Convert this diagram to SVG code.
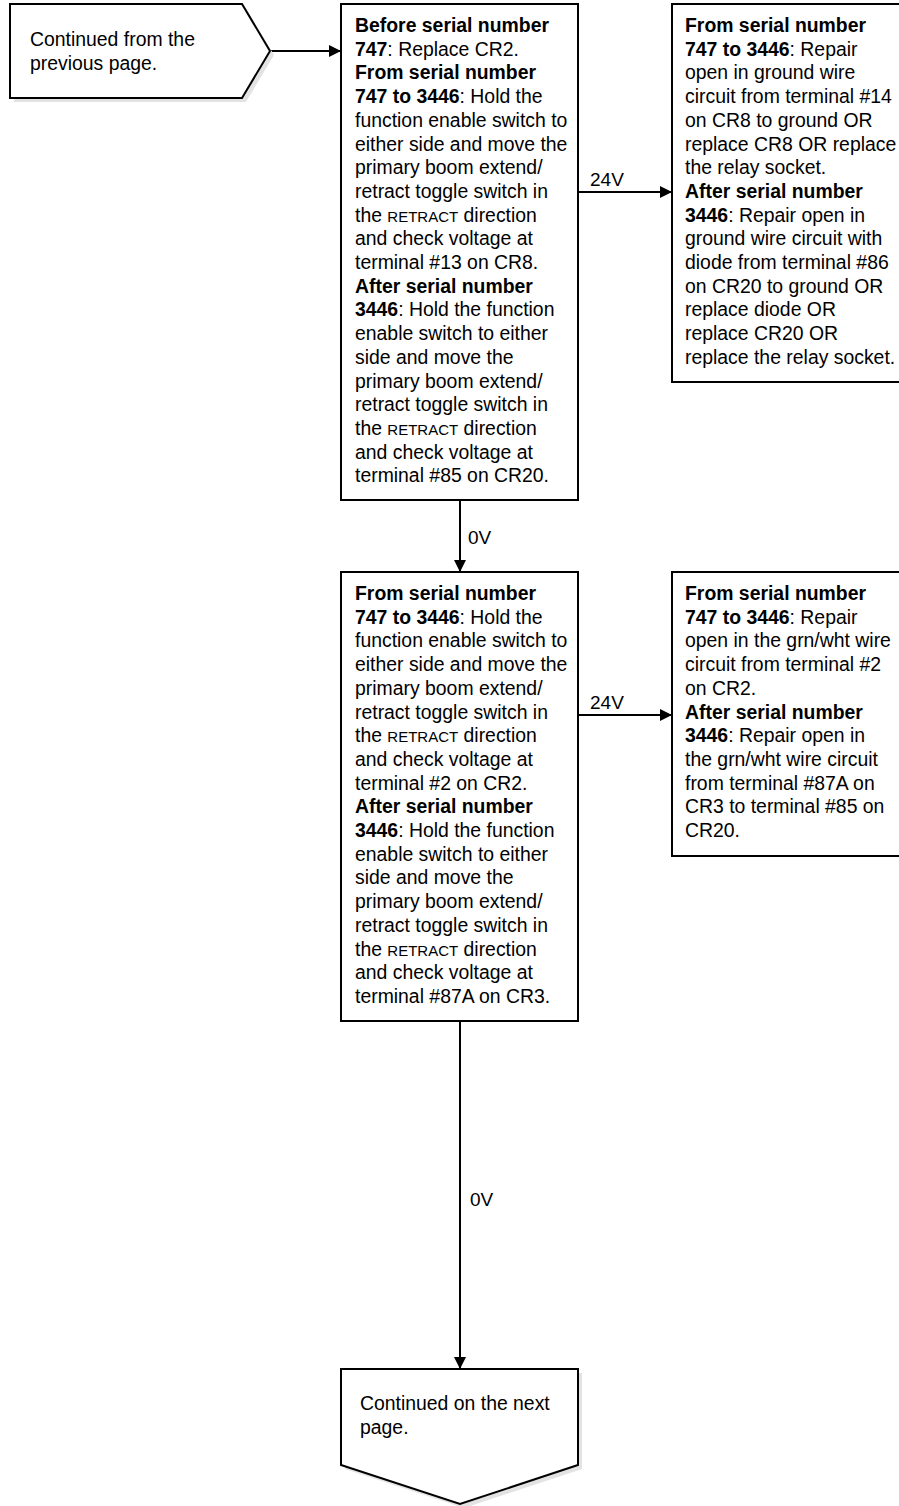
<svg xmlns="http://www.w3.org/2000/svg" width="899" height="1506" viewBox="0 0 899 1506">
<style>
.box{fill:#fff;stroke:#000;stroke-width:2}
.sh{fill:#e3e3e3;stroke:none}
.t{font-family:"Liberation Sans",Arial,sans-serif;font-size:19.4px;fill:#000}
.b{font-weight:bold}
.sc{font-size:15px}
.ln{stroke:#000;stroke-width:2;fill:none}
.lbl{font-family:"Liberation Sans",Arial,sans-serif;font-size:19px;fill:#000}
</style>
<defs>
<marker id="ah" markerWidth="12" markerHeight="12" refX="11" refY="6" orient="auto" markerUnits="userSpaceOnUse">
<path d="M0,0 L12,6 L0,12 Z" fill="#000"/>
</marker>
</defs>
<rect width="899" height="1506" fill="#fff"/>

<g id="connectors">
<line class="ln" x1="270" y1="51" x2="340" y2="51" marker-end="url(#ah)"/>
<line class="ln" x1="578" y1="192" x2="671" y2="192" marker-end="url(#ah)"/>
<text class="lbl" x="590" y="186">24V</text>
<line class="ln" x1="460" y1="500" x2="460" y2="571" marker-end="url(#ah)"/>
<text class="lbl" x="468" y="544">0V</text>
<line class="ln" x1="578" y1="715" x2="671" y2="715" marker-end="url(#ah)"/>
<text class="lbl" x="590" y="709">24V</text>
<line class="ln" x1="460" y1="1021" x2="460" y2="1368" marker-end="url(#ah)"/>
<text class="lbl" x="470" y="1206">0V</text>
</g>

<g id="start">
<polygon class="sh" points="14,8 246,8 274,55 246,102 14,102"/>
<polygon class="box" points="10,4 242,4 270,51 242,98 10,98"/>
<text class="t" x="30" y="46">Continued from the</text>
<text class="t" x="30" y="70">previous page.</text>
</g>

<g id="boxA">
<rect class="box" x="341" y="4" width="237" height="496"/>
<text class="t" x="355" y="32"><tspan class="b">Before serial number</tspan></text>
<text class="t" x="355" y="55.7"><tspan class="b">747</tspan>: Replace CR2.</text>
<text class="t" x="355" y="79.4"><tspan class="b">From serial number</tspan></text>
<text class="t" x="355" y="103.1"><tspan class="b">747 to 3446</tspan>: Hold the</text>
<text class="t" x="355" y="126.8">function enable switch to</text>
<text class="t" x="355" y="150.5">either side and move the</text>
<text class="t" x="355" y="174.2">primary boom extend/</text>
<text class="t" x="355" y="197.9">retract toggle switch in</text>
<text class="t" x="355" y="221.6">the <tspan class="sc">RETRACT</tspan> direction</text>
<text class="t" x="355" y="245.3">and check voltage at</text>
<text class="t" x="355" y="269">terminal #13 on CR8.</text>
<text class="t" x="355" y="292.7"><tspan class="b">After serial number</tspan></text>
<text class="t" x="355" y="316.4"><tspan class="b">3446</tspan>: Hold the function</text>
<text class="t" x="355" y="340.1">enable switch to either</text>
<text class="t" x="355" y="363.8">side and move the</text>
<text class="t" x="355" y="387.5">primary boom extend/</text>
<text class="t" x="355" y="411.2">retract toggle switch in</text>
<text class="t" x="355" y="434.9">the <tspan class="sc">RETRACT</tspan> direction</text>
<text class="t" x="355" y="458.6">and check voltage at</text>
<text class="t" x="355" y="482.3">terminal #85 on CR20.</text>
</g>

<g id="repairA">
<rect class="box" x="672" y="4" width="240" height="378"/>
<text class="t" x="685" y="32"><tspan class="b">From serial number</tspan></text>
<text class="t" x="685" y="55.7"><tspan class="b">747 to 3446</tspan>: Repair</text>
<text class="t" x="685" y="79.4">open in ground wire</text>
<text class="t" x="685" y="103.1">circuit from terminal #14</text>
<text class="t" x="685" y="126.8">on CR8 to ground OR</text>
<text class="t" x="685" y="150.5">replace CR8 OR replace</text>
<text class="t" x="685" y="174.2">the relay socket.</text>
<text class="t" x="685" y="197.9"><tspan class="b">After serial number</tspan></text>
<text class="t" x="685" y="221.6"><tspan class="b">3446</tspan>: Repair open in</text>
<text class="t" x="685" y="245.3">ground wire circuit with</text>
<text class="t" x="685" y="269">diode from terminal #86</text>
<text class="t" x="685" y="292.7">on CR20 to ground OR</text>
<text class="t" x="685" y="316.4">replace diode OR</text>
<text class="t" x="685" y="340.1">replace CR20 OR</text>
<text class="t" x="685" y="363.8">replace the relay socket.</text>
</g>

<g id="boxB">
<rect class="box" x="341" y="572" width="237" height="449"/>
<text class="t" x="355" y="600"><tspan class="b">From serial number</tspan></text>
<text class="t" x="355" y="623.7"><tspan class="b">747 to 3446</tspan>: Hold the</text>
<text class="t" x="355" y="647.4">function enable switch to</text>
<text class="t" x="355" y="671.1">either side and move the</text>
<text class="t" x="355" y="694.8">primary boom extend/</text>
<text class="t" x="355" y="718.5">retract toggle switch in</text>
<text class="t" x="355" y="742.2">the <tspan class="sc">RETRACT</tspan> direction</text>
<text class="t" x="355" y="765.9">and check voltage at</text>
<text class="t" x="355" y="789.6">terminal #2 on CR2.</text>
<text class="t" x="355" y="813.3"><tspan class="b">After serial number</tspan></text>
<text class="t" x="355" y="837"><tspan class="b">3446</tspan>: Hold the function</text>
<text class="t" x="355" y="860.7">enable switch to either</text>
<text class="t" x="355" y="884.4">side and move the</text>
<text class="t" x="355" y="908.1">primary boom extend/</text>
<text class="t" x="355" y="931.8">retract toggle switch in</text>
<text class="t" x="355" y="955.5">the <tspan class="sc">RETRACT</tspan> direction</text>
<text class="t" x="355" y="979.2">and check voltage at</text>
<text class="t" x="355" y="1002.9">terminal #87A on CR3.</text>
</g>

<g id="repairB">
<rect class="box" x="672" y="572" width="240" height="284"/>
<text class="t" x="685" y="600"><tspan class="b">From serial number</tspan></text>
<text class="t" x="685" y="623.7"><tspan class="b">747 to 3446</tspan>: Repair</text>
<text class="t" x="685" y="647.4">open in the grn/wht wire</text>
<text class="t" x="685" y="671.1">circuit from terminal #2</text>
<text class="t" x="685" y="694.8">on CR2.</text>
<text class="t" x="685" y="718.5"><tspan class="b">After serial number</tspan></text>
<text class="t" x="685" y="742.2"><tspan class="b">3446</tspan>: Repair open in</text>
<text class="t" x="685" y="765.9">the grn/wht wire circuit</text>
<text class="t" x="685" y="789.6">from terminal #87A on</text>
<text class="t" x="685" y="813.3">CR3 to terminal #85 on</text>
<text class="t" x="685" y="837">CR20.</text>
</g>

<g id="end">
<polygon class="sh" points="345,1373 582,1373 582,1469 464,1508 345,1469"/>
<polygon class="box" points="341,1369 578,1369 578,1465 460,1504 341,1465"/>
<text class="t" x="360" y="1410">Continued on the next</text>
<text class="t" x="360" y="1434">page.</text>
</g>
</svg>
